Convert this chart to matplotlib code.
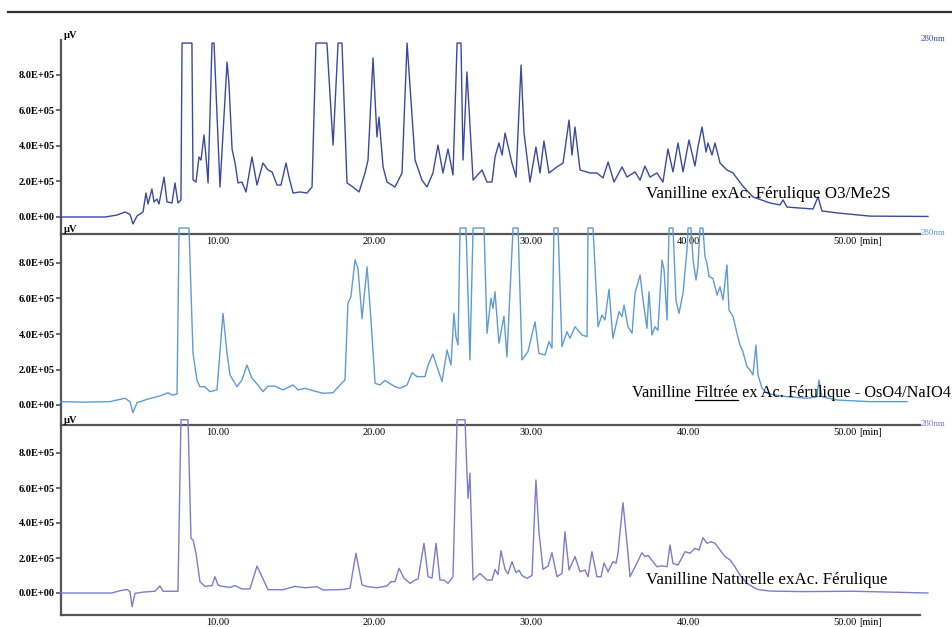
"""Three stacked HPLC chromatograms (280 nm) of vanillin samples."""
import matplotlib
matplotlib.use("Agg")
import matplotlib.pyplot as plt
import numpy as np
from matplotlib.lines import Line2D

plt.rcParams["font.family"] = ["Liberation Serif", "DejaVu Serif"]

# ---- data: retention time [min], signal [x1e5 uV] ----
t_o3 = [0.0, 2.81, 3.57, 4.08, 4.40, 4.59, 4.85, 5.23, 5.42, 5.55, 5.80, 5.93, 6.12, 6.25,
        6.57, 6.76, 7.08, 7.27, 7.46, 7.65, 7.72, 8.35, 8.42, 8.61, 8.80, 8.93, 9.12, 9.25,
        9.38, 9.63, 9.76, 10.14, 10.59, 10.71, 10.91, 11.10, 11.29, 11.54, 11.80, 12.18,
        12.50, 12.88, 13.20, 13.46, 13.78, 14.03, 14.35, 14.54, 14.80, 15.24, 15.69, 16.01,
        16.26, 16.96, 17.35, 17.67, 17.92, 18.24, 18.62, 19.01, 19.39, 19.58, 19.90, 20.15,
        20.28, 20.54, 20.79, 21.30, 21.75, 22.07, 22.58, 23.02, 23.34, 23.72, 24.04, 24.36,
        24.68, 25.00, 25.26, 25.51, 25.64, 25.89, 26.28, 26.85, 27.17, 27.49, 27.68, 27.93,
        28.13, 28.32, 28.76, 29.02, 29.34, 29.53, 29.91, 30.29, 30.55, 30.80, 31.12, 31.63,
        32.02, 32.40, 32.59, 32.78, 33.10, 33.74, 34.18, 34.57, 34.89, 35.27, 35.78, 36.10,
        36.61, 36.93, 37.24, 37.56, 38.01, 38.39, 38.71, 39.03, 39.35, 39.67, 40.05, 40.43,
        40.62, 40.88, 41.14, 41.26, 41.52, 41.71, 42.03, 42.47, 42.86, 43.43, 44.13, 45.22,
        45.85, 46.05, 46.30, 47.96, 48.28, 48.53, 49.49, 51.59, 55.29]
v_o3 = [0.0, 0.0, 0.11, 0.28, 0.15, -0.39, 0.06, 0.28, 1.35, 0.73, 1.58, 0.85, 1.01, 0.73,
        2.25, 0.85, 0.79, 1.92, 0.79, 0.96, 9.8, 9.8, 2.10, 1.97, 3.38, 3.21, 4.62, 3.38,
        1.92, 9.8, 9.8, 1.69, 8.73, 7.55, 3.83, 3.04, 1.92, 1.97, 1.41, 3.38,
        1.80, 3.04, 2.65, 2.54, 1.80, 1.80, 3.04, 2.25, 1.35, 1.41, 1.35, 1.69,
        9.8, 9.8, 4.05, 9.8, 9.8, 1.92, 1.69, 1.41, 2.48, 3.21, 8.96, 4.51,
        5.63, 2.82, 1.97, 1.69, 2.48, 9.8, 3.21, 2.08, 1.69, 2.48, 4.05, 2.48,
        3.83, 2.37, 9.8, 9.8, 3.21, 8.17, 2.08, 2.65, 1.97, 1.97, 3.38, 4.17,
        3.49, 4.73, 3.04, 2.25, 8.56, 4.73, 1.97, 3.94, 2.48, 4.28, 2.48, 2.82,
        3.04, 5.46, 3.49, 5.07, 2.65, 2.48, 2.48, 2.20, 3.10, 1.97, 2.82, 2.25,
        2.54, 2.08, 2.87, 2.25, 2.48, 1.97, 3.83, 2.54, 4.17, 2.54, 4.34, 2.87,
        3.94, 5.07, 3.66, 4.17, 3.49, 4.17, 3.04, 2.65, 2.48, 1.80, 1.13, 0.79,
        0.68, 0.96, 0.56, 0.45, 1.13, 0.34, 0.23, 0.05, 0.03]

t_os = [0.0, 1.40, 3.13, 4.08, 4.40, 4.59, 4.85, 5.48, 6.31, 6.82, 7.08, 7.40, 7.53, 8.16,
        8.42, 8.67, 8.86, 9.18, 9.50, 9.95, 10.33, 10.59, 10.78, 11.22, 11.54, 11.86, 12.18,
        12.56, 12.88, 13.20, 13.65, 14.16, 14.80, 15.12, 15.56, 16.07, 16.71, 17.35, 17.79,
        18.11, 18.30, 18.49, 18.75, 18.94, 19.20, 19.52, 19.77, 20.03, 20.34, 20.66, 21.30,
        21.62, 22.07, 22.39, 22.70, 23.21, 23.41, 23.72, 23.98, 24.30, 24.62, 24.87, 25.06,
        25.19, 25.32, 25.45, 25.83, 26.08, 26.28, 26.98, 27.17, 27.42, 27.55, 27.68, 27.93,
        28.25, 28.44, 28.83, 29.15, 29.40, 29.78, 30.23, 30.48, 30.87, 31.12, 31.31, 31.44,
        31.70, 31.95, 32.27, 32.46, 32.78, 33.23, 33.55, 33.61, 33.93, 34.25, 34.50, 34.69,
        34.95, 35.20, 35.59, 35.78, 35.91, 36.16, 36.42, 36.61, 36.93, 37.12, 37.37, 37.50,
        37.69, 37.88, 38.07, 38.33, 38.46, 38.65, 38.78, 39.03, 39.22, 39.41, 39.67, 39.92,
        39.99, 40.18, 40.31, 40.50, 40.62, 40.75, 40.94, 41.07, 41.20, 41.33, 41.58, 41.84,
        42.03, 42.22, 42.47, 42.60, 42.86, 43.11, 43.30, 43.49, 43.75, 43.94, 44.13, 44.32,
        44.45, 44.71, 45.03, 45.54, 46.30, 47.58, 48.21, 48.34, 48.53, 49.49, 51.59, 53.95]
v_os = [0.19, 0.16, 0.19, 0.38, 0.19, -0.43, 0.13, 0.32, 0.51, 0.69, 0.56, 0.62, 9.97, 9.97,
        2.91, 1.41, 1.03, 1.03, 0.75, 0.85, 5.16, 2.91, 1.69, 1.03, 1.41, 2.25, 1.50,
        1.13, 0.75, 1.06, 1.06, 0.85, 1.13, 0.85, 0.94, 0.81, 0.66, 0.69, 1.13,
        1.41, 5.73, 6.10, 8.17, 7.70, 4.88, 7.79, 4.79, 1.22, 1.13, 1.38, 1.03,
        0.94, 1.13, 1.82, 1.60, 1.60, 2.25, 2.87, 2.16, 1.31, 3.10, 2.25, 5.16,
        3.85, 3.38, 9.97, 9.97, 2.54, 9.97, 9.97, 4.04, 6.01, 5.45, 6.38, 3.48,
        5.00, 2.72, 9.97, 9.97, 2.54, 3.00, 4.69, 2.91, 2.82, 3.57, 3.20, 9.97,
        9.97, 3.29, 4.13, 3.76, 4.41, 3.94, 3.85, 9.97, 9.97, 4.41, 5.07, 4.79,
        6.52, 3.76, 5.26, 4.98, 5.63, 4.41, 4.04, 6.30, 7.32, 5.92, 4.32, 6.38,
        3.94, 4.41, 4.20, 8.17, 7.61, 4.79, 9.97, 9.97, 5.92, 5.16, 6.30, 8.73,
        9.97, 9.97, 8.17, 7.04, 7.79, 9.97, 9.97, 8.36, 7.98, 7.23, 7.13, 6.19,
        6.66, 5.92, 7.89, 5.35, 4.98, 4.04, 3.38, 3.00, 2.16, 1.97, 1.69, 3.38,
        1.69, 0.94, 0.66, 0.56, 0.47, 0.38, 0.47, 1.41, 0.47, 0.28, 0.19, 0.19]

t_nat = [0.0, 3.25, 3.76, 4.21, 4.40, 4.53, 4.72, 5.23, 5.99, 6.31, 6.51, 7.46, 7.65, 8.10,
         8.29, 8.42, 8.61, 8.86, 9.18, 9.63, 9.82, 10.01, 10.27, 10.78, 11.10, 11.54, 12.05,
         12.50, 12.82, 13.20, 14.16, 14.92, 15.56, 16.33, 16.71, 17.98, 18.43, 18.81, 19.20,
         19.58, 20.15, 20.79, 21.05, 21.30, 21.56, 21.88, 22.26, 22.58, 22.77, 23.15, 23.41,
         23.66, 23.92, 24.17, 24.43, 24.68, 25.00, 25.26, 25.77, 25.89, 25.96, 26.08, 26.28,
         26.72, 27.17, 27.49, 27.68, 27.87, 28.06, 28.32, 28.51, 28.76, 29.02, 29.21, 29.40,
         29.72, 30.04, 30.29, 30.48, 30.74, 31.06, 31.31, 31.63, 31.95, 32.14, 32.40, 32.78,
         33.10, 33.42, 33.61, 33.86, 34.18, 34.44, 34.63, 34.89, 35.20, 35.40, 35.52, 35.84,
         36.10, 36.29, 36.61, 37.05, 37.24, 37.44, 37.76, 38.01, 38.33, 38.65, 38.84, 39.03,
         39.35, 39.80, 40.11, 40.43, 40.69, 40.94, 41.20, 41.45, 41.71, 42.03, 42.35, 42.67,
         42.98, 43.30, 43.75, 44.39, 45.22, 47.32, 50.51, 55.29]
v_nat = [0.0, 0.0, 0.13, 0.20, 0.08, -0.78, -0.02, 0.05, 0.10, 0.40, 0.10, 0.10, 9.9, 9.9,
         3.12, 3.03, 2.27, 0.65, 0.38, 0.42, 0.93, 0.46, 0.38, 0.32, 0.42, 0.23, 0.23,
         1.54, 0.93, 0.19, 0.19, 0.38, 0.30, 0.36, 0.17, 0.20, 0.27, 2.27, 0.46,
         0.36, 0.30, 0.40, 0.65, 0.65, 1.41, 0.84, 0.55, 0.74, 0.80, 2.84, 0.93,
         0.85, 2.84, 0.74, 0.74, 0.55, 0.93, 9.9, 9.9, 6.84, 5.41, 6.84, 0.74,
         1.12, 0.74, 0.74, 1.35, 1.05, 2.42, 1.35, 1.10, 1.79, 1.16, 1.30, 1.00,
         0.84, 1.00, 6.46, 3.50, 1.35, 1.54, 2.30, 0.93, 1.12, 3.50, 1.31, 2.08,
         1.22, 1.31, 0.93, 2.36, 0.93, 0.93, 1.71, 1.22, 1.79, 1.70, 2.27, 5.16,
         2.84, 0.93, 1.50, 2.30, 2.08, 2.15, 1.79, 1.50, 1.55, 1.50, 2.74, 1.69,
         1.60, 2.36, 2.27, 2.55, 2.45, 3.16, 2.84, 2.93, 2.84, 2.46, 2.08, 1.89,
         1.50, 1.03, 0.55, 0.21, 0.11, 0.08, 0.10, 0.0]

panels = [
    (t_o3, v_o3, "#3c4a9c", "Vanilline exAc. Férulique O3/Me2S"),
    (t_os, v_os, "#5f9bd4", None),
    (t_nat, v_nat, "#7d7bcc", "Vanilline Naturelle exAc. Férulique"),
]
# pixel geometry of the three panels (top, bottom, zero line, px per 1e5)
geom = [(40, 234, 217, 17.75), (234, 425, 405, 17.75), (425, 615, 593, 17.5)]
label_y = [194, 393, 580]
yticks = [0, 2, 4, 6, 8]
xticks = [10, 20, 30, 40, 50]

W, H = 952, 627
fig = plt.figure(figsize=(W / 100, H / 100), dpi=100)
x0, x1 = 61, 920
tmax = (x1 - x0) / 15.68
spine_c = "#555555"

for i, ((tt, vv, col, lab), (top, bot, zero, sc)) in enumerate(zip(panels, geom)):
    ax = fig.add_axes([x0 / W, (H - bot) / H, (x1 - x0) / W, (bot - top) / H])
    ax.patch.set_alpha(0)
    ax.plot(tt, np.array(vv), color=col, lw=1.0, clip_on=False, zorder=3)
    ax.set_xlim(0, tmax)
    ax.set_ylim(-(bot - zero) / sc, (zero - top) / sc)
    for s in ("top", "right"):
        ax.spines[s].set_visible(False)
    for s in ("left", "bottom"):
        ax.spines[s].set_color(spine_c)
        ax.spines[s].set_linewidth(1.6)
    ax.set_yticks(yticks)
    ax.set_yticklabels([f"{v}.0E+0{5 if v else 0}" for v in yticks],
                       fontsize=7.5, fontweight="bold")
    ax.tick_params(axis="y", length=3.5, width=1.2, color=spine_c, pad=1)
    ax.set_xticks(xticks)
    ax.set_xticklabels([f"{v}.00" for v in xticks], fontsize=7.5)
    ax.tick_params(axis="x", length=0, pad=2)
    ax.annotate("[min]", xy=(50, 0), xycoords=("data", "axes fraction"),
                xytext=(10, -2), textcoords="offset points", va="top", ha="left",
                fontsize=7.5)
    ax.text(0.003, 1.0, "μV", transform=ax.transAxes, ha="left", va="bottom",
            fontsize=7.5, fontweight="bold")
    fig.text(921 / W, 1 - (top - 1) / H, "280nm", color=col, fontsize=6.5,
             ha="left", va="center")
    if lab:
        fig.text(646 / W, 1 - label_y[i] / H, lab, fontsize=12.2, ha="left",
                 va="center", zorder=5)

# middle label with underlined word
r = fig.canvas.get_renderer()
ty = 1 - label_y[1] / H
xx = 632 / W
for part, ul in [("Vanilline ", False), ("Filtrée", True),
                 (" ex Ac. Férulique - OsO4/NaIO4", False)]:
    txt = fig.text(xx, ty, part, fontsize=11.7, ha="left", va="center", zorder=5)
    bb = txt.get_window_extent(renderer=r).transformed(fig.transFigure.inverted())
    if ul:
        fig.add_artist(Line2D([bb.x0, bb.x1], [bb.y0 + 0.002, bb.y0 + 0.002],
                              transform=fig.transFigure, color="black", lw=0.9))
    xx = bb.x1

# heavy rule along the top
fig.add_artist(Line2D([8 / W, 1.0], [1 - 12 / H, 1 - 12 / H],
                      transform=fig.transFigure, color="#333333", lw=1.6))

fig.savefig("out.png", dpi=100)
